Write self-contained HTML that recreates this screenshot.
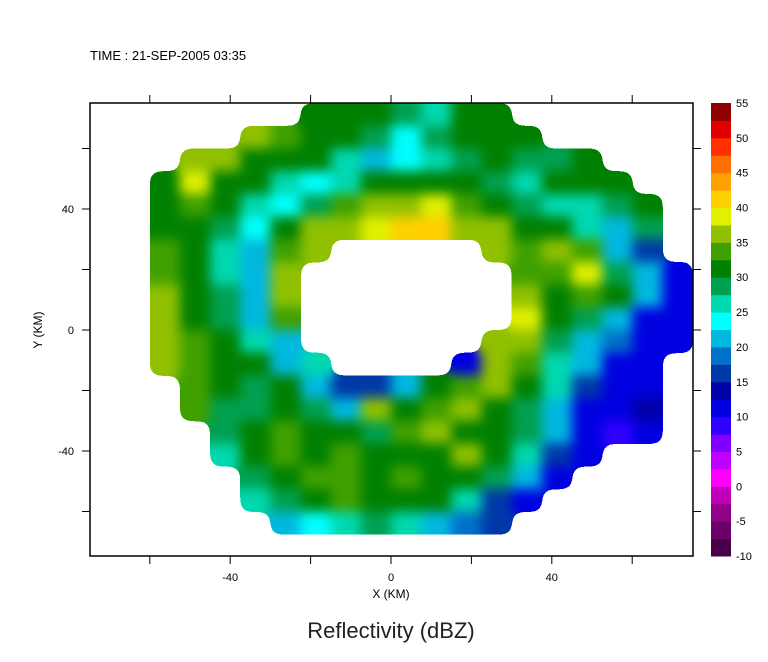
<!DOCTYPE html>
<html><head><meta charset="utf-8"><style>
html,body{margin:0;padding:0;background:#fff;}
svg{display:block;font-family:"Liberation Sans",sans-serif;}
</style></head><body>
<svg id="chart" width="768" height="662" viewBox="0 0 768 662">
<defs>
<filter id="smooth" x="-5%" y="-5%" width="110%" height="110%" color-interpolation-filters="sRGB">
<feGaussianBlur stdDeviation="6"/>
<feComponentTransfer><feFuncA type="discrete" tableValues="0 1"/></feComponentTransfer>
</filter>
<clipPath id="plotclip"><rect x="90" y="103" width="603" height="453"/></clipPath>
</defs>
<text x="90" y="60" font-size="13">TIME : 21-SEP-2005 03:35</text>
<g id="field" clip-path="url(#plotclip)"><g id="cells" filter="url(#smooth)"></g></g>
<rect x="90" y="103" width="603" height="453" fill="none" stroke="#000" stroke-width="1.5"/>
<g id="axes"></g>
<g id="colorbar"></g>
<text x="391" y="598" font-size="12" text-anchor="middle">X (KM)</text>
<text x="42" y="330" font-size="12" text-anchor="middle" transform="rotate(-90 42 330)">Y (KM)</text>
<text x="391" y="638" font-size="22" text-anchor="middle" fill="#222">Reflectivity (dBZ)</text>
</svg>
<script>
// grid of dBZ (0 = no data), rows top(y=71.25km) to bottom, cols left(x=-71.25km) to right, 7.5 km cells
const xCenters = [-71.25,-63.75,-56.25,-48.75,-41.25,-33.75,-26.25,-18.75,-11.25,-3.75,3.75,11.25,18.75,26.25,33.75,41.25,48.75,56.25,63.75,71.25];
const yCenters = [71.25,63.75,56.25,48.75,41.25,33.75,26.25,18.75,11.25,3.75,-3.75,-11.25,-18.75,-26.25,-33.75,-41.25,-48.75,-56.25,-63.75,-71.25];
const dbzRows = [
[0,0,0,0,0,0,0,32,31,30,29,27,30,30,0,0,0,0,0,0],
[0,0,0,0,0,35,33,30,31,28,24,28,30,30,30,0,0,0,0,0],
[0,0,0,36,37,32,30,30,26,22,23,25,28,30,29,29,30,0,0,0],
[0,0,30,38,32,30,27,23,26,30,31,31,30,28,27,30,30,30,0,0],
[0,0,31,33,30,27,23,28,33,36,37,38,33,31,29,25,27,28,30,0],
[0,0,32,30,28,23,30,35,37,38,41,40,37,35,30,30,25,22,28,0],
[0,0,33,31,27,22,33,36,0,0,0,0,0,37,33,36,33,22,15,0],
[0,0,34,30,27,20,37,0,0,0,0,0,0,0,33,33,38,28,20,10],
[0,0,35,30,28,20,37,0,0,0,0,0,0,0,37,30,33,32,20,10],
[0,0,36,31,28,21,33,0,0,0,0,0,0,0,38,30,28,22,12,12],
[0,0,36,33,30,25,22,0,0,0,0,0,0,36,36,28,20,18,12,10],
[0,0,36,33,30,30,22,25,0,0,0,0,10,37,33,25,20,12,10,0],
[0,0,0,33,30,28,30,22,15,17,20,30,33,36,30,25,15,12,10,0],
[0,0,0,33,28,28,30,28,22,35,32,34,35,32,28,22,12,10,14,0],
[0,0,0,0,28,30,33,30,30,28,33,35,32,30,28,22,12,8,12,0],
[0,0,0,0,27,30,34,30,33,30,30,32,35,30,25,15,12,0,0,0],
[0,0,0,0,0,28,30,34,33,30,33,30,30,28,20,12,0,0,0,0],
[0,0,0,0,0,25,28,30,33,30,30,30,25,15,12,0,0,0,0,0],
[0,0,0,0,0,0,22,24,25,28,25,22,18,15,0,0,0,0,0,0],
[0,0,0,0,0,0,0,0,0,0,0,0,0,0,0,0,0,0,0,0]
];
const cbLevels = [-10,-7.5,-5,-2.5,0,2.5,5,7.5,10,12.5,15,17.5,20,22.5,25,27.5,30,32.5,35,37.5,40,42.5,45,47.5,50,52.5];
const cbColors = ["#4a0048","#6a0068","#900088","#c000b8","#ff00ff","#c000ff","#8000ff","#3000ff","#0000e0","#0000a8","#0038a8","#0070c8","#00b8e0","#00ffff","#00d8b0","#00a050","#008000","#40a000","#90c000","#e0f000","#ffd000","#ffa000","#ff7000","#ff3000","#e00000","#900000"];
const cbTicks = [-10,-5,0,5,10,15,20,25,30,35,40,45,50,55];
const xTicks = [-60,-40,-20,0,20,40,60];
const yTicks = [-60,-40,-20,0,20,40,60];
const xLabels = [-40,0,40];
const yLabels = [-40,0,40];

const NS="http://www.w3.org/2000/svg";
const xs = km => 391 + km*4.02;
const ys = km => 330 - km*3.025;
const cbY = v => 556 - (v+10)*(453/65);
function colorFor(v){let c=cbColors[0];for(let i=0;i<cbLevels.length;i++){if(v>=cbLevels[i])c=cbColors[i];}return c;}
function mk(tag,attrs,parent){const e=document.createElementNS(NS,tag);for(const k in attrs)e.setAttribute(k,attrs[k]);parent.appendChild(e);return e;}

const cells=document.getElementById('cells');
dbzRows.forEach((row,r)=>row.forEach((v,c)=>{
  if(!v)return;
  const x0=xs(xCenters[c]-3.75),x1=xs(xCenters[c]+3.75),y0=ys(yCenters[r]+3.75),y1=ys(yCenters[r]-3.75);
  const e=mk('rect',{x:x0,y:y0,width:x1-x0+0.5,height:y1-y0+0.5,fill:colorFor(v)},cells);
  
  
}));

const axes=document.getElementById('axes');
xTicks.forEach(t=>{
  const a=mk('line',{x1:xs(t),x2:xs(t),y1:103,y2:95,stroke:'#000'},axes);
  
  
  const b=mk('line',{x1:xs(t),x2:xs(t),y1:556,y2:564,stroke:'#000'},axes);
  
  
});
yTicks.forEach(t=>{
  const a=mk('line',{x1:90,x2:82,y1:ys(t),y2:ys(t),stroke:'#000'},axes);
  
  
  const b=mk('line',{x1:693,x2:701,y1:ys(t),y2:ys(t),stroke:'#000'},axes);
  
  
});
xLabels.forEach(t=>{
  const e=mk('text',{x:xs(t),y:581,'font-size':11,'text-anchor':'middle'},axes);
  e.textContent=t;
  
  
});
yLabels.forEach(t=>{
  const e=mk('text',{x:74,y:ys(t)+4,'font-size':11,'text-anchor':'end'},axes);
  e.textContent=t;
  
  
});

const cb=document.getElementById('colorbar');
cbLevels.forEach((lv,i)=>{
  const y1=cbY(lv),y0=cbY(lv+2.5);
  const e=mk('rect',{x:711,y:y0,width:20,height:y1-y0+0.5,fill:cbColors[i]},cb);
  
  
});
cbTicks.forEach(t=>{
  const e=mk('text',{x:736,y:cbY(t)+4,'font-size':11},cb);
  e.textContent=t;
  
  
});
</script>
</body></html>
